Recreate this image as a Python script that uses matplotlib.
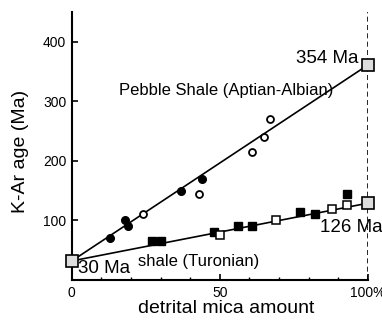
import numpy as np
import matplotlib.pyplot as plt
from matplotlib.ticker import MultipleLocator

plt.rcParams['font.family'] = ['Liberation Sans', 'DejaVu Sans']

# Pebble Shale (Aptian-Albian)
peb_fill_x = [13, 18, 19, 37, 44]
peb_fill_y = [70, 100, 90, 150, 170]
peb_open_x = [24, 43, 61, 65, 67]
peb_open_y = [110, 145, 215, 240, 270]

# shale (Turonian)
tur_fill_x = [27, 30, 48, 56, 61, 77, 82, 93]
tur_fill_y = [65, 65, 80, 90, 90, 115, 110, 145]
tur_open_x = [50, 69, 88, 93]
tur_open_y = [75, 100, 120, 126]

# end members (0% and 100% detrital mica)
end_x = [0, 100, 100]
end_y = [32, 361, 129]

fig = plt.figure(figsize=(3.82, 3.2), dpi=100)
ax = fig.add_axes([0.188, 0.125, 0.775, 0.8375])

ax.axvline(100, color="black", lw=1.2, ls=(0, (3, 2)), zorder=1)

ax.plot([end_x[0], end_x[1]], [end_y[0], end_y[1]], color="black", lw=1.2, zorder=2)
ax.plot([end_x[0], end_x[2]], [end_y[0], end_y[2]], color="black", lw=1.2, zorder=2)

ax.plot(peb_fill_x, peb_fill_y, "o", color="black", ms=5.5, zorder=3)
ax.plot(peb_open_x, peb_open_y, "o", mfc="white", mec="black", mew=1.3, ms=5, zorder=3)
ax.plot(tur_fill_x, tur_fill_y, "s", color="black", ms=5.5, zorder=3)
ax.plot(tur_open_x, tur_open_y, "s", mfc="white", mec="black", mew=1.1, ms=5.5, zorder=3)
ax.plot(end_x, end_y, "s", mfc="#dddddd", mec="black", mew=1.2, ms=8.5,
        zorder=4, clip_on=False)

ax.text(97, 372, "354 Ma", fontsize=13.5, ha="right", va="center")
ax.text(16, 318, "Pebble Shale (Aptian-Albian)", fontsize=12, ha="left", va="center")
ax.text(2, 19, "30 Ma", fontsize=13.5, ha="left", va="center")
ax.text(22.3, 31, "shale (Turonian)", fontsize=12, ha="left", va="center")
ax.text(83.8, 88, "126 Ma", fontsize=13.5, ha="left", va="center", clip_on=False)

ax.set_xlim(0, 100)
ax.set_ylim(0, 450)
ax.set_xticks([0, 50, 100])
ax.set_xticklabels(["0", "50", "100%"])
ax.xaxis.set_minor_locator(MultipleLocator(10))
ax.set_yticks([100, 200, 300, 400])

ax.spines["top"].set_visible(False)
ax.spines["right"].set_visible(False)
ax.spines["left"].set_linewidth(1.5)
ax.spines["bottom"].set_linewidth(1.5)
ax.tick_params(which="major", direction="in", length=4, width=1.2, labelsize=10, pad=4)
ax.tick_params(which="minor", direction="in", length=2.5, width=1.0)

ax.set_xlabel("detrital mica amount", fontsize=14)
ax.set_ylabel("K-Ar age (Ma)", fontsize=14)
ax.xaxis.set_label_coords(0.52, -0.075)
ax.yaxis.set_label_coords(-0.145, 0.48)

plt.savefig("out.png", dpi=100)
